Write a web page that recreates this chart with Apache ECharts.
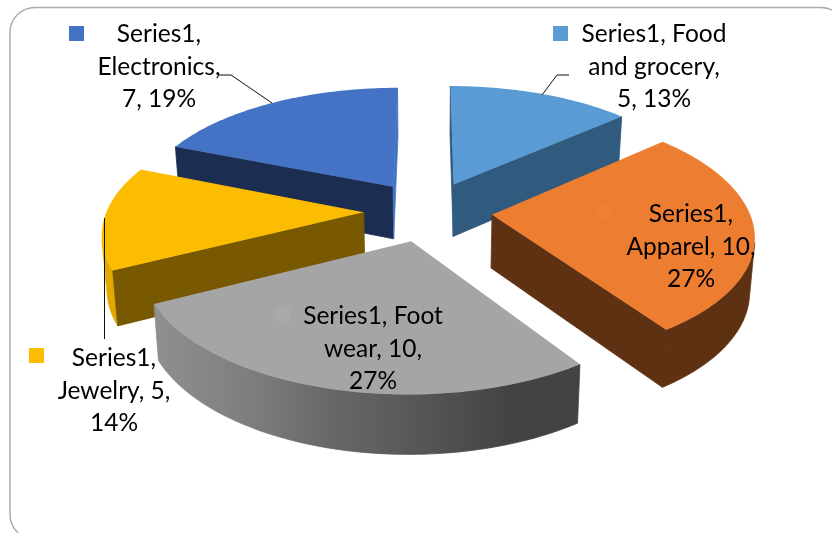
<!DOCTYPE html>
<html><head><meta charset="utf-8">
<style>html,body{margin:0;padding:0;background:#fff}#c{width:832px;height:533px}</style>
<script src="https://cdn.jsdelivr.net/npm/echarts@6/dist/echarts.min.js"></script>
</head><body><div id="c"></div>
<script>
// --- data ---
const categories = ["Food and grocery", "Apparel", "Foot wear", "Jewelry", "Electronics"];
const values = [5, 10, 10, 5, 7];
const percents = [13, 27, 27, 14, 19];
const seriesName = "Series1";
const labelLines = [
  [seriesName + ", Food", "and grocery,", values[0] + ", " + percents[0] + "%"],
  [seriesName + ",", categories[1] + ", " + values[1] + ",", percents[1] + "%"],
  [seriesName + ", Foot", "wear, " + values[2] + ",", percents[2] + "%"],
  [seriesName + ",", categories[3] + ", " + values[3] + ",", percents[3] + "%"],
  [seriesName + ",", categories[4] + ",", values[4] + ", " + percents[4] + "%"]
];

// --- styles ---
const topColors = ["#5b9bd5", "#ed7d31", "#a5a5a5", "#fcbd00", "#4472c4"];
const startCutColors = ["#305a7e", "#5f3113", "#5f5f5f", "#785800", "#1b2e52"];
const endCutColors = ["#305a7e", "#5f3113", "#5f5f5f", "#785800", "#4472c4"];
const rimColors = ["#305a7e", "#5f3113", null, "#e3a900", "#1b2e52"];
const keyColors = ["#5b9bd5", "#ef8034", "#a9a9a9", "#fcbd00", "#4472c4"];
const labelPos = [[654, 34], [691, 214], [373, 316], [114, 358], [159, 34]];
const keyPos = [[553, 26], [597, 204], [275, 307], [29, 348], [69, 26]];
const leaders = [
  [[569, 75], [557, 75], [542, 95]],
  [[218, 75], [231, 75], [272, 103]],
  [[104.5, 218], [104.5, 339]]
];
const FONT = 'Lato, "Open Sans", sans-serif';

// --- perspective projection of an exploded disc ---
const CX = 428, CY = 211, RX = 257, RY = 120.4, PERSP = 0.149, EXPLODE = 0.25, DEPTH = 53;
const total = values.reduce((a, b) => a + b, 0);
function project(u, v, low) {
  const s = 1 / (1 + PERSP * v);
  let x = CX + RX * u * s, y = CY - RY * v * s;
  if (low) { x = CX + (x - CX) * 0.984; y += DEPTH * Math.pow(s, 0.6); }
  return [x, y];
}
function area(p) {
  let a = 0;
  for (let i = 0; i < p.length; i++) {
    const q = p[(i + 1) % p.length];
    a += p[i][0] * q[1] - q[0] * p[i][1];
  }
  return a;
}
function wallFill(i) {
  if (rimColors[i]) return rimColors[i];
  return new echarts.graphic.LinearGradient(155, 0, 579, 0, [
    { offset: 0, color: "#8f8f8f" },
    { offset: 0.2, color: "#808080" },
    { offset: 0.39, color: "#6a6a6a" },
    { offset: 0.58, color: "#5a5a5a" },
    { offset: 0.74, color: "#4c4c4c" },
    { offset: 0.84, color: "#434343" },
    { offset: 1, color: "#434343" }
  ], true);
}

function renderItem(params, api) {
  const i = params.dataIndex;
  const val = api.value(0);
  let before = 0;
  for (let j = 0; j < i; j++) before += values[j];
  const a0 = before / total * Math.PI * 2, a1 = (before + val) / total * Math.PI * 2;
  const mid = (a0 + a1) / 2;
  const ou = EXPLODE * Math.sin(mid), ov = EXPLODE * Math.cos(mid);
  const base = Math.round((1 - ov) * 20) * 10;

  const N = 72, uv = [];
  for (let k = 0; k <= N; k++) {
    const t = a0 + (a1 - a0) * k / N;
    uv.push([ou + Math.sin(t), ov + Math.cos(t)]);
  }
  const topRim = uv.map(p => project(p[0], p[1], false));
  const lowRim = uv.map(p => project(p[0], p[1], true));
  const apexT = project(ou, ov, false), apexL = project(ou, ov, true);

  const children = [];
  // visible outer wall
  let run = [];
  const flush = () => {
    if (!run.length) return;
    const idx = run;
    const pts = idx.map(k => topRim[k]).concat(idx.slice().reverse().map(k => lowRim[k]));
    const fill = wallFill(i);
    children.push({ type: "polygon", z2: base, shape: { points: pts }, style: { fill: fill, stroke: fill, lineWidth: 0.8 } });
    run = [];
  };
  for (let k = 0; k < N; k++) {
    const vis = area([topRim[k], topRim[k + 1], lowRim[k + 1], lowRim[k]]) < 0;
    if (vis) { if (!run.length) run.push(k); run.push(k + 1); } else flush();
  }
  flush();
  // visible cut faces
  [[apexT, apexL, topRim[0], lowRim[0], startCutColors[i]], [topRim[N], lowRim[N], apexT, apexL, endCutColors[i]]].forEach(f => {
    const q = [f[0], f[2], f[3], f[1]];
    if (area(q) < 0) children.push({ type: "polygon", z2: base + 1, shape: { points: q }, style: { fill: f[4], stroke: f[4], lineWidth: 0.8 } });
  });
  // top face
  children.push({ type: "polygon", z2: base + 2, shape: { points: [apexT].concat(topRim) }, style: { fill: topColors[i] } });
  // legend key
  children.push({ type: "rect", z2: 900, shape: { x: keyPos[i][0], y: keyPos[i][1], width: 15, height: 15 }, style: { fill: keyColors[i] } });
  // label
  labelLines[i].forEach((t, n) => {
    children.push({
      type: "text", z2: 1000,
      style: {
        x: labelPos[i][0], y: labelPos[i][1] + n * 32.7, text: t, fill: "#000000",
        font: '24.5px ' + FONT, align: "center", verticalAlign: "middle"
      }
    });
  });
  return { type: "group", children };
}

const chart = echarts.init(document.getElementById("c"), null, { renderer: "canvas" });
chart.setOption({
  animation: false,
  backgroundColor: "#ffffff",
  graphic: {
    elements: [
      { type: "rect", z: 0, silent: true, shape: { x: 10, y: 7.5, width: 836, height: 532, r: 25 }, style: { fill: "#ffffff", stroke: "#adadad", lineWidth: 1.5 } }
    ].concat(leaders.map(p => ({ type: "polyline", z: 10, silent: true, shape: { points: p }, style: { stroke: "#111111", lineWidth: 1, fill: null } })))
  },
  series: [{
    type: "custom",
    name: seriesName,
    coordinateSystem: "none",
    silent: true,
    z: 5,
    renderItem,
    data: values.map(v => [v])
  }]
});
</script></body></html>
